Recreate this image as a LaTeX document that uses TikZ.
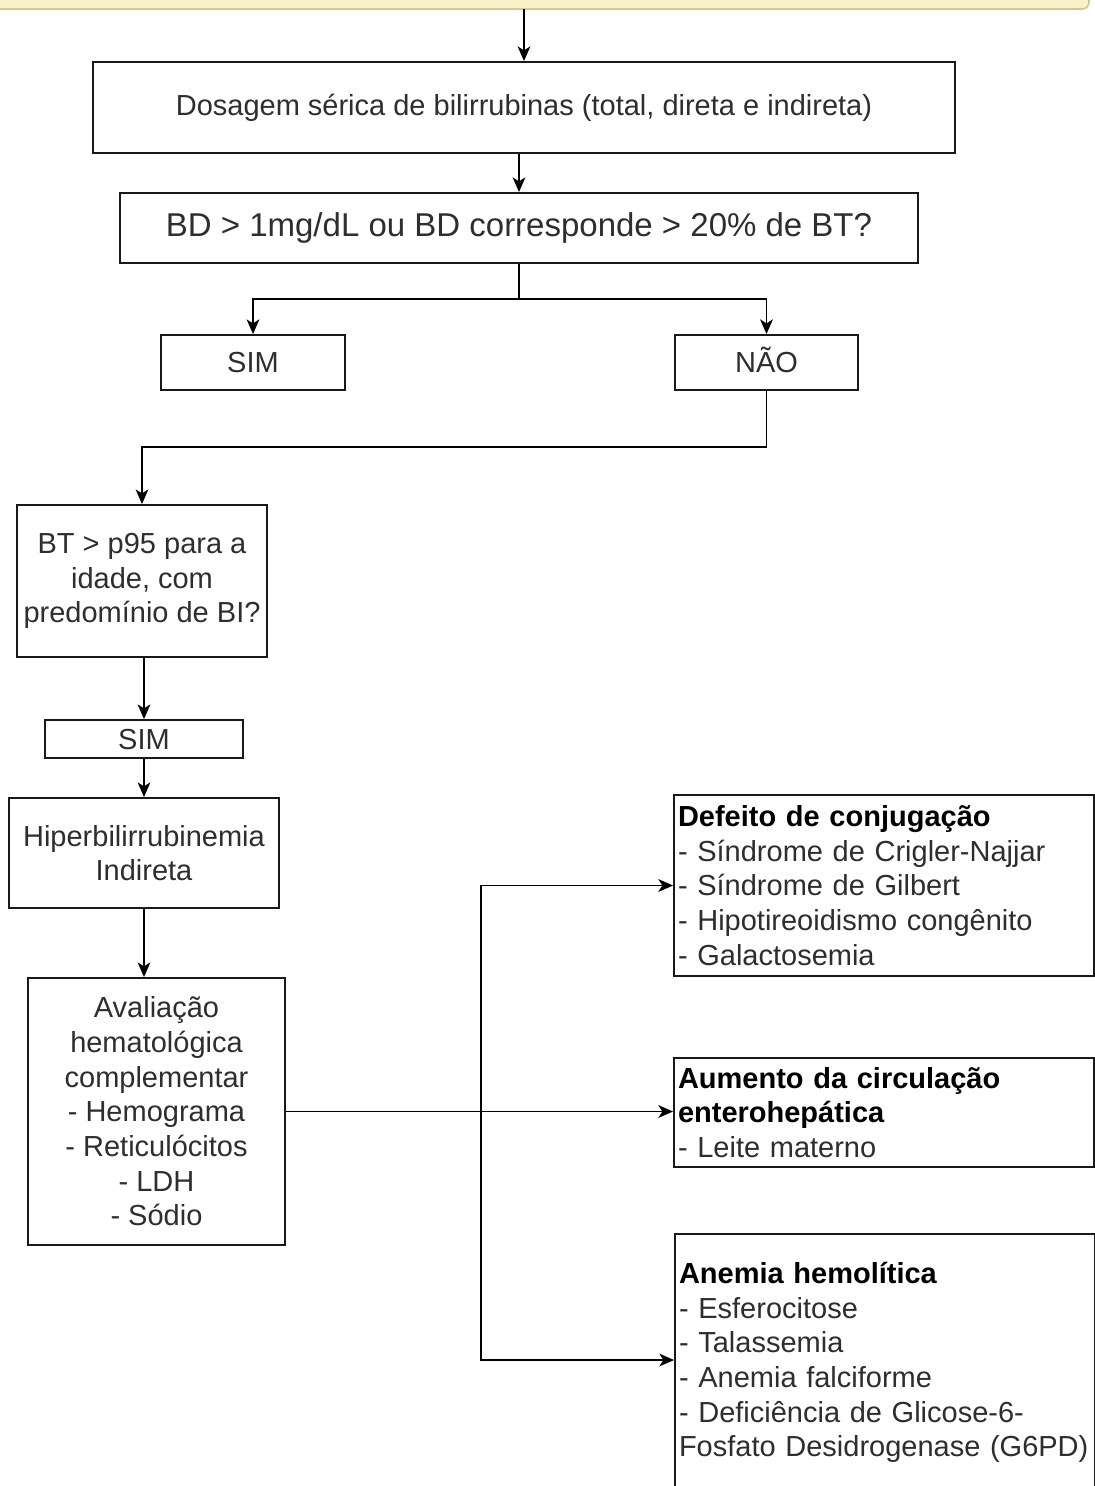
\documentclass[tikz,border=0pt]{standalone}
\usepackage{fontspec}
\setmainfont{Liberation Sans}
\usetikzlibrary{arrows.meta,calc}
\definecolor{txt}{HTML}{2E2E2E}
\definecolor{yfill}{HTML}{FBF1C8}
\definecolor{yline}{HTML}{D8C68A}
\tikzset{
  wh/.style 2 args={minimum width=#1*0.75pt, minimum height=#2*0.75pt},
  box/.style={draw=black!90, line width=1.4pt, fill=white, inner sep=0pt, text=txt, align=center,
    font=\fontsize{21.75pt}{26pt}\selectfont},
  oneline/.style={text height=17.6pt, text depth=2pt},
  lbox/.style={box, align=left, text width=#1*0.75pt-6pt},
  conn/.style={draw=black, line width=1.4pt},
  arr/.style={conn, -{Stealth[length=11pt,width=9.5pt,inset=3pt]}},
}
\begin{document}
\begin{tikzpicture}[x=0.75pt,y=-0.75pt]
\useasboundingbox (0,0) rectangle (1095,1486);
\clip (0,0) rectangle (1095,1486);
\fill[white] (0,0) rectangle (1095,1486);
% top (cut-off) box
\draw[fill=yfill, draw=yline, line width=1.2pt, rounded corners=5pt] (-10,-40) rectangle (1089,9);
\coordinate (top) at (524,9);

\node[box, wh={862}{91}] (b1) at (524,107.5) {Dosagem sérica de bilirrubinas (total, direta e indireta)};
\node[box, wh={798}{70}, font=\fontsize{24.75pt}{29pt}\selectfont] (b2) at (519,228) {BD > 1mg/dL ou BD corresponde > 20\% de BT?};
\node[box, oneline, wh={184}{55}] (sim1) at (253,362.5) {SIM};
\node[box, oneline, wh={183}{55}] (nao) at (766.5,362.5) {NÃO};
\node[box, wh={250}{152}] (bt) at (142,581) {BT > p95 para a\\idade, com\\predomínio de BI?};
\node[box, oneline, wh={198}{38}] (sim2) at (144,739) {SIM};
\node[box, wh={270}{110}] (hip) at (144,853) {Hiperbilirrubinemia\\Indireta};
\node[box, wh={257}{267}] (av) at (156.5,1111.5) {Avaliação\\hematológica\\complementar\\- Hemograma\\- Reticulócitos\\- LDH\\- Sódio};
\node[lbox=420, wh={420}{181}] (def) at (884,885.5) {\textcolor{black}{\textbf{Defeito de conjugação}}\\- Síndrome de Crigler-Najjar\\- Síndrome de Gilbert\\- Hipotireoidismo congênito\\- Galactosemia};
\node[lbox=420, wh={420}{109}] (aum) at (884,1112.5) {\textcolor{black}{\textbf{Aumento da circulação}}\\\textcolor{black}{\textbf{enterohepática}}\\- Leite materno};
\node[lbox=420, wh={420}{257}] (ane) at (885,1362.5) {\textcolor{black}{\textbf{Anemia hemolítica}}\\- Esferocitose\\- Talassemia\\- Anemia falciforme\\- Deficiência de Glicose-6-\\Fosfato Desidrogenase (G6PD)};

\draw[arr] (top) -- (b1.north);
\draw[arr] (b2.north |- b1.south) -- (b2.north);
\draw[conn] (b2.south) -- ++(0,35) coordinate (j1);
\draw[arr] (j1) -| (sim1.north);
\draw[arr] (j1) -| (nao.north);
\draw[arr] (nao.south) -- ++(0,56) -| (bt.north);
\draw[arr] (bt.south -| sim2.north) -- (sim2.north);
\draw[arr] (sim2.south) -- (hip.north);
\draw[arr] (hip.south) -- (hip.south |- av.north);
\draw[arr] (av.east) -- (av.east -| aum.west);
\coordinate (j2) at (481,1111.5);
\draw[arr] (j2) |- (def.west);
\draw[arr] (j2) |- ($(ane.west)+(0,-2.5)$);
\end{tikzpicture}
\end{document}
